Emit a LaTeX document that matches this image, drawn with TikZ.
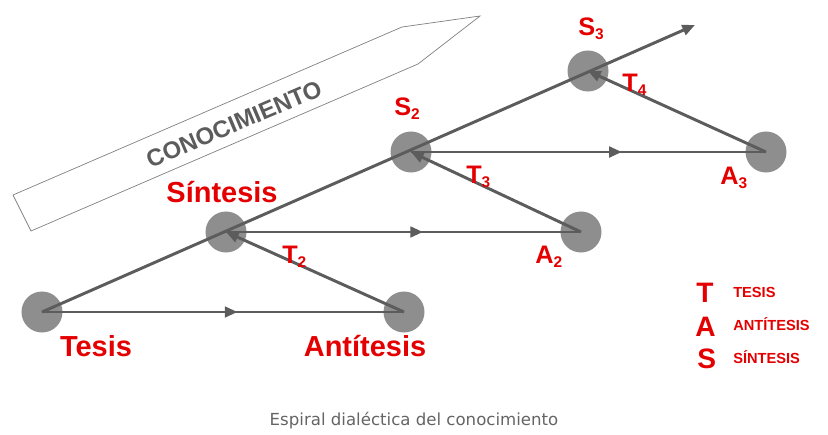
\documentclass[tikz,border=0pt]{standalone}
\usepackage{fontspec}
\setmainfont{Liberation Sans}
\newfontfamily\capfont{DejaVu Sans}
\usetikzlibrary{arrows.meta, decorations.markings}
\definecolor{tasred}{RGB}{228,0,0}
\definecolor{linegray}{RGB}{92,92,92}
\definecolor{dotgray}{RGB}{142,142,142}
\definecolor{capgray}{RGB}{100,100,100}
\newcommand{\lbsub}[1]{\raisebox{-3pt}{\fontsize{11}{11}\selectfont #1}}
\tikzstyle{dot} =[circle, minimum size=1.025cm, inner sep=0pt, fill=dotgray]
\tikzstyle{lbl} =[inner sep=0pt, anchor=base, text=tasred, font=\fontsize{20.6}{20}\selectfont\bfseries]
\tikzstyle{sublbl} =[inner sep=0pt, anchor=base west, text=tasred, font=\fontsize{18}{18}\selectfont\bfseries]
\tikzstyle{legkey} =[inner sep=0pt, anchor=base west, text=tasred, font=\fontsize{20}{20}\selectfont\bfseries]
\tikzstyle{legtxt} =[inner sep=0pt, anchor=base west, text=tasred, font=\fontsize{10.4}{10}\selectfont\bfseries]
\tikzstyle{link} =[line width=2.1pt, color=linegray]
\tikzstyle{arrow} =[link, -{Triangle[length=9pt,width=7.5pt]}]
\tikzset{midarrow/.style={link, postaction={decorate}, decoration={markings, mark=at position #1 with {\arrow{Triangle[length=9pt,width=7.5pt]}}}}}

\begin{document}
\begin{tikzpicture}[x=0.025cm, y=-0.025cm]
\useasboundingbox (0,0) rectangle (828,434);
\draw [color=gray, line width=0.5pt] (13,195) -- (402,27) -- (480,16) -- (418,64) -- (31,231) -- cycle;
\node (know) [rotate=23, inner sep=0pt, text=linegray, font=\fontsize{17}{17}\selectfont\bfseries] at (234,124) {CONOCIMIENTO};
\node (t1) [dot] at (42,312) {};
\node (a1) [dot] at (404,312) {};
\node (s1) [dot] at (226,232) {};
\node (a2) [dot] at (581,232) {};
\node (s2) [dot] at (411,152) {};
\node (a3) [dot] at (766,152) {};
\node (s3) [dot] at (588,71) {};
\coordinate (kend) at (695,25);
\draw [midarrow=0.54] (t1.center)--(a1.center);
\draw [arrow] (a1.center)--(s1.center);
\draw [midarrow=0.555] (s1.center)--(a2.center);
\draw [arrow] (a2.center)--(s2.center);
\draw [midarrow=0.594] (s2.center)--(a3.center);
\draw [arrow] (a3.center)--(s3.center);
\draw [arrow] (t1.center)--(kend);
\node (ltesis) [lbl] at (96,356) {Tesis};
\node (lanti) [lbl] at (365,356) {Antítesis};
\node (lsint) [lbl] at (222,202) {Síntesis};
\node (ls2) [sublbl] at (394,115) {S\lbsub{2}};
\node (ls3) [sublbl] at (578,35) {S\lbsub{3}};
\node (lt2) [sublbl] at (282,263) {T\lbsub{2}};
\node (lt3) [sublbl] at (466,183) {T\lbsub{3}};
\node (lt4) [sublbl] at (622,91) {T\lbsub{4}};
\node (la2) [sublbl] at (535,263) {A\lbsub{2}};
\node (la3) [sublbl] at (720,184) {A\lbsub{3}};
\node (keyt) [legkey] at (696,302) {T};
\node (keya) [legkey] at (695,336) {A};
\node (keys) [legkey] at (697,368) {S};
\node (txtt) [legtxt] at (733,297) {TESIS};
\node (txta) [legtxt] at (733,330) {ANTÍTESIS};
\node (txts) [legtxt] at (733,363) {SÍNTESIS};
\node (cap) [inner sep=0pt, anchor=base, text=capgray, font=\capfont\fontsize{11.8}{13}\selectfont] at (414,425) {Espiral dialéctica del conocimiento};
\end{tikzpicture}
\end{document}
